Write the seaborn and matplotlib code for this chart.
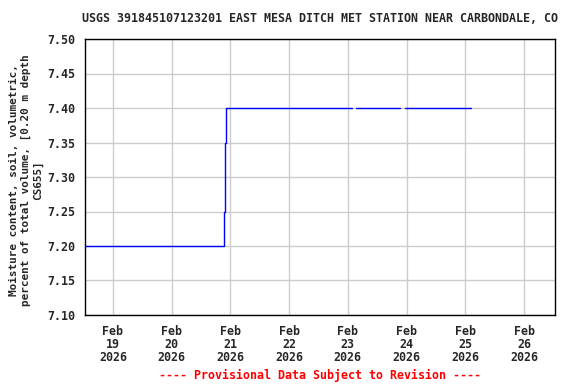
import pandas as pd
import matplotlib
matplotlib.use("Agg")
import matplotlib.pyplot as plt
import seaborn as sns

# --- data ---
seg_ids = [1, 1, 1, 1, 1, 2, 2, 3, 3]
times = ["2026-02-18 12:00", "2026-02-20 21:30", "2026-02-20 21:45", "2026-02-20 22:15",
         "2026-02-23 01:30", "2026-02-23 03:15", "2026-02-23 21:30",
         "2026-02-23 23:15", "2026-02-25 02:30"]
moisture = [7.20, 7.25, 7.35, 7.40, 7.40, 7.40, 7.40, 7.40, 7.40]

tick_dates = ["2026-02-19", "2026-02-20", "2026-02-21", "2026-02-22",
              "2026-02-23", "2026-02-24", "2026-02-25", "2026-02-26"]
tick_labels = ["Feb\n19\n2026", "Feb\n20\n2026", "Feb\n21\n2026", "Feb\n22\n2026",
               "Feb\n23\n2026", "Feb\n24\n2026", "Feb\n25\n2026", "Feb\n26\n2026"]
y_ticks = [7.10, 7.15, 7.20, 7.25, 7.30, 7.35, 7.40, 7.45, 7.50]

df = pd.DataFrame({"seg": seg_ids, "time": pd.to_datetime(times), "value": moisture})

sns.set_style("white")
plt.rcParams["font.family"] = ["DejaVu Sans Mono"]
plt.rcParams["font.weight"] = "bold"
fs = 8.4

fig, ax = plt.subplots(figsize=(5.76, 3.84), dpi=100)
fig.subplots_adjust(left=85/576, right=555/576, top=1-39/384, bottom=1-315/384)

sns.lineplot(data=df, x="time", y="value", units="seg", estimator=None,
             color="blue", linewidth=1.0, drawstyle="steps-post", ax=ax, legend=False)

ax.set_xlim(pd.Timestamp("2026-02-18 12:35"), pd.Timestamp("2026-02-26 12:40"))
ax.set_ylim(7.10, 7.50)
ax.set_xticks(pd.to_datetime(tick_dates))
ax.set_xticklabels(tick_labels, fontsize=fs, fontweight="bold", linespacing=1.0)
ax.set_yticks(y_ticks)
ax.set_yticklabels([f"{v:.2f}" for v in y_ticks], fontsize=fs, fontweight="bold")
ax.tick_params(axis="both", length=0, pad=7)
ax.grid(True, color="#cccccc", linewidth=1.0)
ax.set_axisbelow(True)
for s in ax.spines.values():
    s.set_color("black")
    s.set_linewidth(1.0)

ax.set_xlabel("")
ax.set_ylabel("Moisture content, soil, volumetric,\npercent of total volume, [0.20 m depth\nCS655]",
              fontsize=7.9, fontweight="bold", linespacing=1.2)
ax.yaxis.set_label_coords(-42/470, 0.49)

fig.text(320/576, 1-19/384, "USGS 391845107123201 EAST MESA DITCH MET STATION NEAR CARBONDALE, CO",
         ha="center", va="center", fontsize=fs, fontweight="bold")
fig.text(320/576, 1-375/384, "---- Provisional Data Subject to Revision ----",
         ha="center", va="center", fontsize=fs, fontweight="bold", color="red")

fig.savefig("out.png", dpi=100)
